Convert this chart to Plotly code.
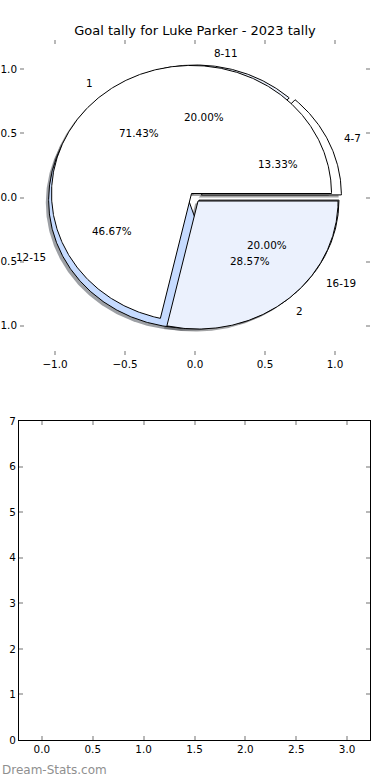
import numpy as np
import plotly.graph_objects as go

# ---------------- data ----------------
title_text = "Goal tally for Luke Parker - 2023 tally"

inner_labels = ["1", "2"]
inner_values = [5, 2]
inner_colors = ["#FFFFFF", "#EBF1FD"]
inner_explode = [0.04, 0.035]

range_labels = ["4-7", "8-11", "12-15", "16-19"]
range_values = [2, 3, 7, 3]
range_colors = ["#FFFFFF", "#EBF1FD", "#C6DBFF", "#EBF1FD"]
range_explode = [0.05, 0.035, 0.05, 0.035]

pie_ticks = [-1.0, -0.5, 0.0, 0.5, 1.0]
bar_xticks = [0.0, 0.5, 1.0, 1.5, 2.0, 2.5, 3.0]
bar_yticks = [0, 1, 2, 3, 4, 5, 6, 7]
bar_x = []
bar_y = []
watermark = "Dream-Stats.com"

W, H = 390, 780
FONT = "DejaVu Sans"


def wedge_geometry(values, explode):
    total = float(sum(values))
    out = []
    t = 0.0
    for v, e in zip(values, explode):
        t1 = t
        t2 = t + 360.0 * v / total
        mid = np.deg2rad((t1 + t2) / 2.0)
        cx, cy = e * np.cos(mid), e * np.sin(mid)
        out.append(dict(t1=t1, t2=t2, cx=cx, cy=cy, mid=mid, frac=v / total))
        t = t2
    return out


def wedge_poly(g, dx=0.0, dy=0.0, r=1.0):
    n = max(int(abs(g["t2"] - g["t1"]) * 2), 4)
    th = np.deg2rad(np.linspace(g["t1"], g["t2"], n))
    cx, cy = g["cx"] + dx, g["cy"] + dy
    xs = np.concatenate([[cx], cx + r * np.cos(th), [cx]])
    ys = np.concatenate([[cy], cy + r * np.sin(th), [cy]])
    return xs, ys


def shade(hexcol):
    h = hexcol.lstrip("#")
    r, g, b = (int(h[i:i + 2], 16) for i in (0, 2, 4))
    return "rgba(%d,%d,%d,0.5)" % (round(r * 0.3), round(g * 0.3), round(b * 0.3))


range_geo = wedge_geometry(range_values, range_explode)
inner_geo = wedge_geometry(inner_values, inner_explode)

fig = go.Figure()

# shadows (drawn below every wedge)
for geo, cols in ((range_geo, range_colors), (inner_geo, inner_colors)):
    for g, c in zip(geo, cols):
        xs, ys = wedge_poly(g, -0.02, -0.02)
        fig.add_trace(go.Scatter(x=xs, y=ys, mode="lines", fill="toself",
                                 fillcolor=shade(c), line=dict(width=0),
                                 hoverinfo="skip", xaxis="x", yaxis="y"))

# wedges: ranges first, then the main split on top
for geo, cols in ((range_geo, range_colors), (inner_geo, inner_colors)):
    for g, c in zip(geo, cols):
        xs, ys = wedge_poly(g)
        fig.add_trace(go.Scatter(x=xs, y=ys, mode="lines", fill="toself",
                                 fillcolor=c, line=dict(color="black", width=1),
                                 hoverinfo="skip", xaxis="x", yaxis="y"))

annotations = []
for geo, labs in ((range_geo, range_labels), (inner_geo, inner_labels)):
    for g, lab in zip(geo, labs):
        lx = g["cx"] + 1.1 * np.cos(g["mid"])
        ly = g["cy"] + 1.1 * np.sin(g["mid"])
        annotations.append(dict(x=lx, y=ly, xref="x", yref="y", text=lab,
                                showarrow=False, xanchor="left" if lx > 0 else "right",
                                yanchor="middle", font=dict(family=FONT, size=10.4, color="black")))
        px = g["cx"] + 0.6 * np.cos(g["mid"])
        py = g["cy"] + 0.6 * np.sin(g["mid"])
        annotations.append(dict(x=px, y=py, xref="x", yref="y", text="%.2f%%" % (g["frac"] * 100),
                                showarrow=False, xanchor="center", yanchor="middle",
                                font=dict(family=FONT, size=10.4, color="black")))

annotations.append(dict(x=0, y=1 - 770 / H, xref="paper", yref="paper", text=watermark,
                        showarrow=False, xanchor="left", yanchor="middle",
                        font=dict(family=FONT, size=12, color="#8f8f8f")))

# empty lower chart
fig.add_trace(go.Scatter(x=bar_x, y=bar_y, mode="markers", xaxis="x2", yaxis="y2",
                         hoverinfo="skip"))

tick_common = dict(ticks="inside", ticklen=4, tickwidth=1.5, tickcolor="#b8b8b8",
                   showgrid=False, zeroline=False, mirror="ticks", automargin=False,
                   tickfont=dict(family=FONT, size=10.4, color="black"))

fig.update_layout(
    width=W, height=H, margin=dict(l=0, r=0, t=0, b=0, autoexpand=False),
    paper_bgcolor="white", plot_bgcolor="white", showlegend=False,
    font=dict(family=FONT, size=10.4, color="black"),
    title=dict(text=title_text, x=0.5, xanchor="center", y=1 - 30 / H, yanchor="middle",
               font=dict(family=FONT, size=13, color="black")),
    xaxis=dict(domain=[20 / W, 370 / W], range=[-1.25, 1.25], anchor="y",
               tickvals=pie_ticks, tickformat=".1f", showline=False,
               ticklabelstandoff=2, **tick_common),
    yaxis=dict(domain=[1 - 355 / H, 1 - 40 / H], range=[-1.23, 1.23], anchor="x",
               tickvals=pie_ticks, tickformat=".1f", showline=False,
               ticklabelstandoff=2, **tick_common),
    xaxis2=dict(domain=[19 / W, 370 / W], range=[-0.225, 3.225], anchor="y2",
                tickvals=bar_xticks, tickformat=".1f", showline=True, linecolor="black",
                linewidth=1, **tick_common),
    yaxis2=dict(domain=[1 - 740 / H, 1 - 421 / H], range=[0, 7], anchor="x2",
                tickvals=bar_yticks, tickformat="d", showline=True, linecolor="black",
                linewidth=1, **tick_common),
    annotations=annotations,
)

fig.write_html("out.html", config={"displayModeBar": False},
               post_script="document.body.style.margin='0';document.body.style.overflow='hidden';")
